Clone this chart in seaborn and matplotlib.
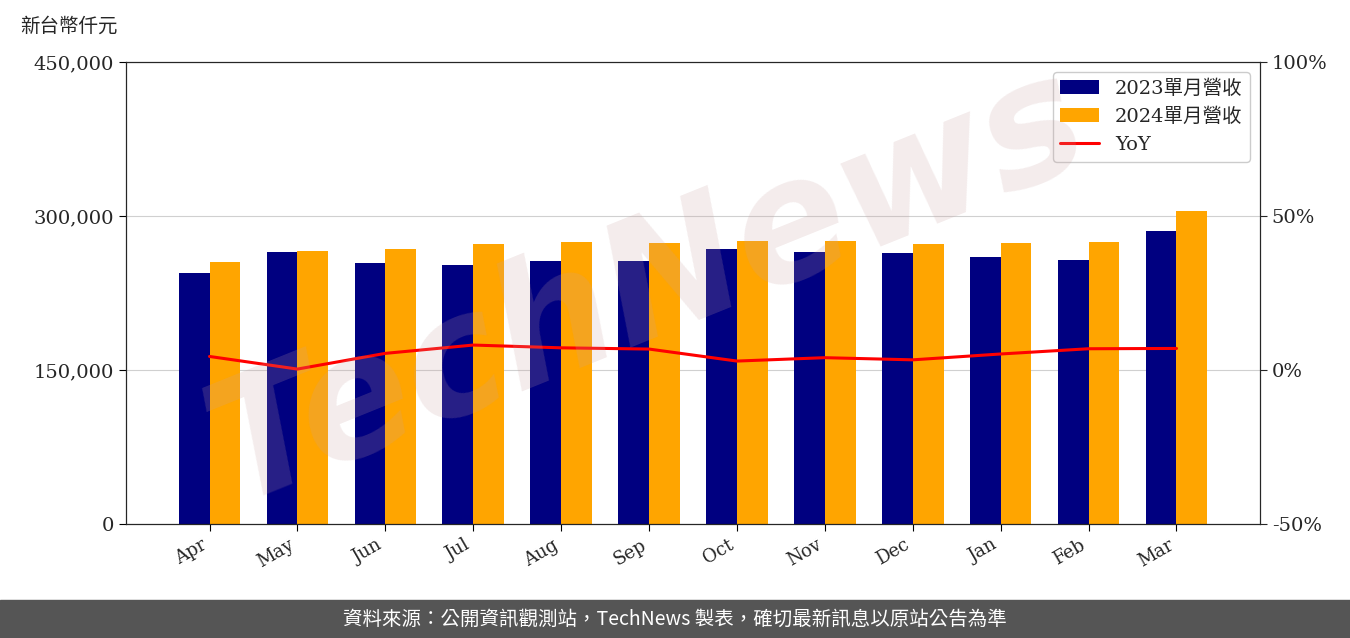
import matplotlib
matplotlib.use("Agg")
import matplotlib.pyplot as plt
import seaborn as sns
import pandas as pd

months = ["Apr", "May", "Jun", "Jul", "Aug", "Sep", "Oct", "Nov", "Dec", "Jan", "Feb", "Mar"]
rev_2023 = [244500, 265000, 254200, 252300, 256200, 256200, 267900, 265000, 264000, 260100, 257100, 285400]
rev_2024 = [255200, 265900, 267900, 272700, 274700, 273700, 275600, 275600, 272700, 273700, 274700, 304900]
yoy = [4.4, 0.3, 5.4, 8.1, 7.2, 6.8, 2.9, 4.0, 3.3, 5.2, 6.9, 7.0]

sns.set_style("white")
serif = ["DejaVu Serif", "Noto Sans CJK TC"]
plt.rcParams["font.family"] = serif

df = pd.DataFrame({
    "month": months * 2,
    "rev": rev_2023 + rev_2024,
    "series": ["2023單月營收"] * 12 + ["2024單月營收"] * 12,
})

fig = plt.figure(figsize=(13.5, 6.38), dpi=100)
ax = fig.add_axes([126 / 1350, 1 - 524 / 638, (1260 - 126) / 1350, (524 - 62) / 638])
sns.barplot(data=df, x="month", y="rev", hue="series", palette=["#000080", "#FFA500"],
            width=0.7, saturation=1, linewidth=0, ax=ax, zorder=2)
ax.set_ylim(0, 450000)
ax.set_yticks([0, 150000, 300000, 450000])
ax.set_yticklabels(["0", "150,000", "300,000", "450,000"], fontsize=14)
ax.yaxis.grid(True, color="#d0d0d0", zorder=0)
ax.set_xlabel("")
ax.set_ylabel("")
ax.set_xlim(-0.95, 11.95)
plt.setp(ax.get_xticklabels(), rotation=30, ha="right", fontsize=13)
for s in ax.spines.values():
    s.set_color("black")
ax.tick_params(axis="both", length=5, color="black", left=True, bottom=True)

ax2 = ax.twinx()
sns.lineplot(x=list(range(12)), y=yoy, color="red", lw=2.2, ax=ax2, label="YoY", legend=False)
ax2.set_ylim(-50, 100)
ax2.set_yticks([-50, 0, 50, 100])
ax2.set_yticklabels(["-50%", "0%", "50%", "100%"], fontsize=14)
ax2.tick_params(axis="y", length=5, right=True)

h1, l1 = ax.get_legend_handles_labels()
h2, l2 = ax2.get_legend_handles_labels()
ax.get_legend().remove()
ax2.legend(h1 + h2, l1 + l2, loc="upper right", prop={"family": serif, "size": 14},
           framealpha=1, edgecolor="#cccccc")

fig.text(0.015, 0.95, "新台幣仟元", fontsize=14, family=serif)

# watermark
fig.text(0.48, 0.55, "TechNews", fontsize=120, color="#c8a0a0", alpha=0.2, rotation=22,
         ha="center", va="center", family="DejaVu Sans", fontweight="bold", fontstyle="italic")

# footer
fig.patches.append(plt.Rectangle((0, 0), 1, 38 / 638, transform=fig.transFigure,
                                 color="#555555", zorder=0))
fig.text(0.5, 19 / 638, "資料來源：公開資訊觀測站，TechNews 製表，確切最新訊息以原站公告為準",
         color="white", fontsize=14, ha="center", va="center",
         family=["Noto Sans CJK TC", "DejaVu Sans"])

fig.savefig("out.png", dpi=100)
